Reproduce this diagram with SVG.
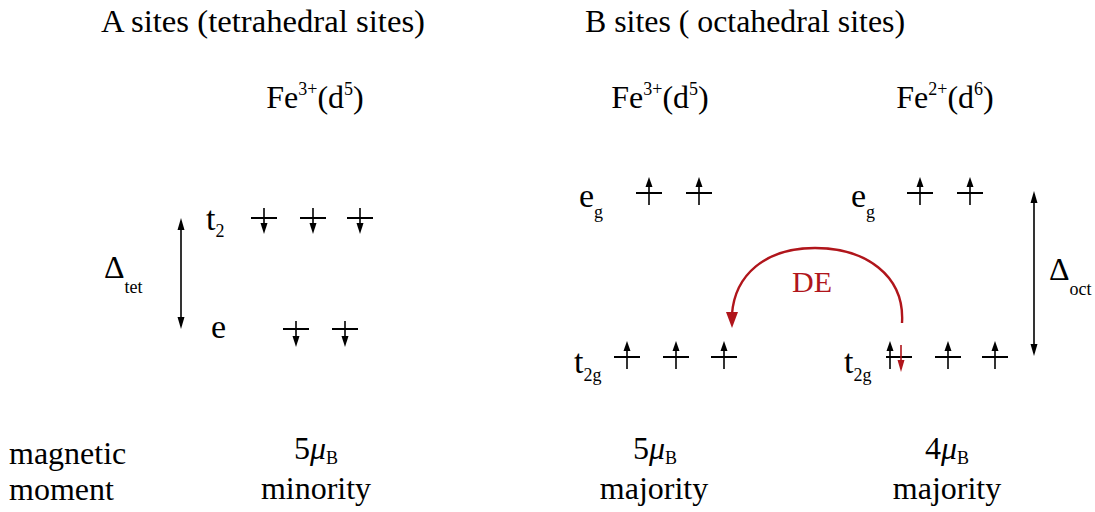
<svg xmlns="http://www.w3.org/2000/svg" xmlns:xlink="http://www.w3.org/1999/xlink" width="1095" height="512" viewBox="0 0 1095 512" font-family="'Liberation Serif','Times New Roman',serif">
<style>
text{font-family:"Liberation Serif","Times New Roman",serif;fill:#000}
.t{font-size:32px}
.lab{font-size:34px}
.sub{font-size:18px}
.lvl{stroke:#000;stroke-width:2;fill:none}
.ax{stroke:#000;stroke-width:1.6;fill:none}
.red{fill:#b0151b}
</style>
<defs>
<g id="lv"><line class="lvl" x1="-13" y1="0" x2="13" y2="0"/></g>
<g id="up"><line class="ax" x1="0" y1="12" x2="0" y2="-8"/><polygon points="-3.5,-6 3.5,-6 0,-16" fill="#000"/></g>
<g id="dn"><line class="ax" x1="0" y1="-10" x2="0" y2="6"/><polygon points="-3.5,5 3.5,5 0,16" fill="#000"/></g>
<g id="dnr"><line x1="0" y1="-12" x2="0" y2="4" stroke="#b0151b" stroke-width="1.6"/><polygon points="-3.5,3 3.5,3 0,15" fill="#b0151b"/></g>
</defs>
<rect width="1095" height="512" fill="#fff"/>

<g id="titles">
<text class="t" x="101" y="32" textLength="324" lengthAdjust="spacingAndGlyphs">A sites (tetrahedral sites)</text>
<text class="t" x="585" y="32" textLength="320" lengthAdjust="spacingAndGlyphs">B sites ( octahedral sites)</text>
</g>

<g id="site-A">
<text class="t" x="315" y="108" text-anchor="middle" font-size="33">Fe<tspan class="sub" dy="-13">3+</tspan><tspan dy="13">(d</tspan><tspan class="sub" dy="-13">5</tspan><tspan dy="13">)</tspan></text>
<text class="lab" x="206" y="230">t<tspan class="sub" dy="7">2</tspan></text>
<text class="lab" x="211" y="338">e</text>
<use xlink:href="#lv" x="264" y="218"/><use xlink:href="#dn" x="264" y="218"/>
<use xlink:href="#lv" x="313" y="218"/><use xlink:href="#dn" x="313" y="218"/>
<use xlink:href="#lv" x="360" y="218"/><use xlink:href="#dn" x="360" y="218"/>
<use xlink:href="#lv" x="296" y="329"/><use xlink:href="#dn" x="296" y="331"/>
<use xlink:href="#lv" x="345" y="329"/><use xlink:href="#dn" x="345" y="331"/>
<text class="t" x="104" y="278">Δ<tspan class="sub" font-size="17" dy="15">tet</tspan></text>
<text class="t" x="316" y="459" text-anchor="middle">5<tspan font-style="italic">μ</tspan><tspan class="sub" dy="5">B</tspan></text>
<text class="t" x="316" y="499" text-anchor="middle">minority</text>
</g>

<g id="site-B-Fe3">
<text class="t" x="660" y="108" text-anchor="middle" font-size="33">Fe<tspan class="sub" dy="-13">3+</tspan><tspan dy="13">(d</tspan><tspan class="sub" dy="-13">5</tspan><tspan dy="13">)</tspan></text>
<text class="lab" x="579" y="207">e<tspan class="sub" dy="11">g</tspan></text>
<use xlink:href="#lv" x="649" y="193"/><use xlink:href="#up" x="649" y="193"/>
<use xlink:href="#lv" x="699" y="193"/><use xlink:href="#up" x="699" y="193"/>
<text class="lab" x="574" y="373">t<tspan class="sub" dy="8">2g</tspan></text>
<use xlink:href="#lv" x="627" y="357"/><use xlink:href="#up" x="627" y="357"/>
<use xlink:href="#lv" x="676" y="357"/><use xlink:href="#up" x="676" y="357"/>
<use xlink:href="#lv" x="724" y="357"/><use xlink:href="#up" x="724" y="357"/>
<text class="t" x="655" y="459" text-anchor="middle">5<tspan font-style="italic">μ</tspan><tspan class="sub" dy="5">B</tspan></text>
<text class="t" x="654" y="499" text-anchor="middle">majority</text>
</g>

<g id="site-B-Fe2">
<text class="t" x="945" y="108" text-anchor="middle" font-size="33">Fe<tspan class="sub" dy="-13">2+</tspan><tspan dy="13">(d</tspan><tspan class="sub" dy="-13">6</tspan><tspan dy="13">)</tspan></text>
<text class="lab" x="851" y="207">e<tspan class="sub" dy="11">g</tspan></text>
<use xlink:href="#lv" x="920" y="193"/><use xlink:href="#up" x="920" y="193"/>
<use xlink:href="#lv" x="970" y="193"/><use xlink:href="#up" x="970" y="193"/>
<text class="lab" x="844" y="373">t<tspan class="sub" dy="8">2g</tspan></text>
<use xlink:href="#lv" x="899" y="357"/><use xlink:href="#up" x="890" y="357"/><use xlink:href="#dnr" x="901" y="357"/>
<use xlink:href="#lv" x="948" y="357"/><use xlink:href="#up" x="948" y="357"/>
<use xlink:href="#lv" x="995" y="357"/><use xlink:href="#up" x="995" y="357"/>
<text class="t" x="1049" y="280">Δ<tspan class="sub" font-size="17" dy="15">oct</tspan></text>
<text class="t" x="947" y="459" text-anchor="middle">4<tspan font-style="italic">μ</tspan><tspan class="sub" dy="5">B</tspan></text>
<text class="t" x="947" y="499" text-anchor="middle">majority</text>
</g>

<g id="label-moment">
<text class="t" x="9" y="464">magnetic</text>
<text class="t" x="9" y="500">moment</text>
</g>

<g id="connectors">
<line class="ax" x1="181" y1="228" x2="181" y2="319"/>
<polygon points="177.5,230 184.5,230 181,218" fill="#000"/>
<polygon points="177.5,317 184.5,317 181,329" fill="#000"/>
<line class="ax" x1="1034" y1="201" x2="1034" y2="346"/>
<polygon points="1030.5,203 1037.5,203 1034,191" fill="#000"/>
<polygon points="1030.5,344 1037.5,344 1034,356" fill="#000"/>
<path d="M 902 323 C 905 275 865 248 815 248 C 765 248 735 275 732 314" fill="none" stroke="#b0151b" stroke-width="2.4"/>
<polygon class="red" points="726,312 738,312 732,328"/>
<text x="812" y="292" text-anchor="middle" font-size="30" style="fill:#b0151b">DE</text>
</g>
</svg>
